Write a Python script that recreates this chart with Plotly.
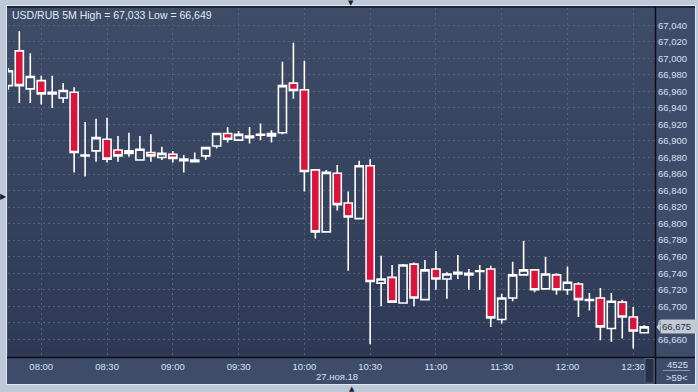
import plotly.graph_objects as go

# ---------------- data ----------------
times = [
    "2018-11-27 07:45", "2018-11-27 07:50", "2018-11-27 07:55", "2018-11-27 08:00",
    "2018-11-27 08:05", "2018-11-27 08:10", "2018-11-27 08:15", "2018-11-27 08:20",
    "2018-11-27 08:25", "2018-11-27 08:30", "2018-11-27 08:35", "2018-11-27 08:40",
    "2018-11-27 08:45", "2018-11-27 08:50", "2018-11-27 08:55", "2018-11-27 09:00",
    "2018-11-27 09:05", "2018-11-27 09:10", "2018-11-27 09:15", "2018-11-27 09:20",
    "2018-11-27 09:25", "2018-11-27 09:30", "2018-11-27 09:35", "2018-11-27 09:40",
    "2018-11-27 09:45", "2018-11-27 09:50", "2018-11-27 09:55", "2018-11-27 10:00",
    "2018-11-27 10:05", "2018-11-27 10:10", "2018-11-27 10:15", "2018-11-27 10:20",
    "2018-11-27 10:25", "2018-11-27 10:30", "2018-11-27 10:35", "2018-11-27 10:40",
    "2018-11-27 10:45", "2018-11-27 10:50", "2018-11-27 10:55", "2018-11-27 11:00",
    "2018-11-27 11:05", "2018-11-27 11:10", "2018-11-27 11:15", "2018-11-27 11:20",
    "2018-11-27 11:25", "2018-11-27 11:30", "2018-11-27 11:35", "2018-11-27 11:40",
    "2018-11-27 11:45", "2018-11-27 11:50", "2018-11-27 11:55", "2018-11-27 12:00",
    "2018-11-27 12:05", "2018-11-27 12:10", "2018-11-27 12:15", "2018-11-27 12:20",
    "2018-11-27 12:25", "2018-11-27 12:30", "2018-11-27 12:35",
]
opens = [
    66.967, 67.009, 66.963, 66.973, 66.959, 66.952, 66.959, 66.882,
    66.888, 66.902, 66.889, 66.885, 66.877, 66.886, 66.880, 66.884,
    66.878, 66.875, 66.882, 66.894, 66.909, 66.901, 66.904, 66.907,
    66.906, 66.910, 66.970, 66.962, 66.865, 66.790, 66.861, 66.825,
    66.806, 66.870, 66.728, 66.735, 66.704, 66.751, 66.708, 66.745,
    66.733, 66.741, 66.738, 66.742, 66.745, 66.684, 66.710, 66.738,
    66.744, 66.721, 66.738, 66.720, 66.727, 66.707, 66.710, 66.673,
    66.705, 66.687, 66.668,
]
highs = [
    66.988, 67.033, 67.006, 66.979, 66.979, 66.970, 66.965, 66.923,
    66.927, 66.928, 66.906, 66.910, 66.906, 66.908, 66.893, 66.888,
    66.883, 66.886, 66.893, 66.910, 66.917, 66.912, 66.917, 66.921,
    66.913, 66.996, 67.019, 66.997, 66.866, 66.865, 66.871, 66.839,
    66.876, 66.878, 66.761, 66.750, 66.751, 66.753, 66.756, 66.767,
    66.741, 66.762, 66.745, 66.750, 66.749, 66.715, 66.754, 66.779,
    66.745, 66.760, 66.740, 66.748, 66.729, 66.716, 66.722, 66.716,
    66.708, 66.699, 66.677,
]
lows = [
    66.962, 66.946, 66.946, 66.944, 66.940, 66.946, 66.862, 66.857,
    66.875, 66.874, 66.875, 66.881, 66.876, 66.875, 66.877, 66.874,
    66.862, 66.874, 66.877, 66.891, 66.898, 66.900, 66.897, 66.901,
    66.898, 66.908, 66.951, 66.839, 66.782, 66.789, 66.816, 66.743,
    66.806, 66.654, 66.700, 66.704, 66.703, 66.700, 66.707, 66.720,
    66.709, 66.733, 66.720, 66.720, 66.675, 66.679, 66.706, 66.737,
    66.717, 66.720, 66.714, 66.714, 66.687, 66.695, 66.659, 66.657,
    66.661, 66.649, 66.668,
]
closes = [
    66.985, 66.967, 66.978, 66.957, 66.957, 66.961, 66.886, 66.883,
    66.904, 66.878, 66.882, 66.888, 66.890, 66.882, 66.885, 66.879,
    66.876, 66.877, 66.892, 66.909, 66.902, 66.908, 66.906, 66.908,
    66.909, 66.967, 66.961, 66.863, 66.790, 66.862, 66.823, 66.808,
    66.870, 66.730, 66.733, 66.705, 66.750, 66.710, 66.744, 66.733,
    66.739, 66.739, 66.740, 66.743, 66.686, 66.710, 66.738, 66.744,
    66.720, 66.739, 66.720, 66.729, 66.708, 66.708, 66.675, 66.706,
    66.687, 66.670, 66.675,
]
y_ticks = [66.66, 66.68, 66.70, 66.72, 66.74, 66.76, 66.78, 66.80, 66.82, 66.84,
           66.86, 66.88, 66.90, 66.92, 66.94, 66.96, 66.98, 67.00, 67.02, 67.04]
x_ticks = ["2018-11-27 08:00", "2018-11-27 08:30", "2018-11-27 09:00", "2018-11-27 09:30",
           "2018-11-27 10:00", "2018-11-27 10:30", "2018-11-27 11:00", "2018-11-27 11:30",
           "2018-11-27 12:00", "2018-11-27 12:30"]
x_tick_labels = ["08:00", "08:30", "09:00", "09:30", "10:00", "10:30", "11:00", "11:30",
                 "12:00", "12:30"]
symbol = "USD/RUB 5M"
date_label = "27.ноя.18"
date_label_pos = "2018-11-27 10:15"
bars_label = "4525"
scale_label = ">59<"
x_range = ["2018-11-27 07:44:50", "2018-11-27 12:39:55"]
y_range = [66.6386, 67.0609]

# ---------------- layout helpers ----------------
W, H = 698, 392
ML, MR, MT, MB = 8, 43, 8, 35
PW, PH = W - ML - MR, H - MT - MB


def px_x(px):
    return (px - ML) / PW


def px_y(py):
    return (H - MB - py) / PH


def fmt(v):
    return f"{v:.3f}".replace(".", ",")


FONT = "Liberation Sans"
LABEL_COLOR = "#D3E1F6"
PANEL = "#3E4C69"

fig = go.Figure()
fig.add_trace(go.Candlestick(
    x=times, open=opens, high=highs, low=lows, close=closes,
    increasing=dict(line=dict(color="#FFFFFF", width=1.6), fillcolor="rgba(0,0,0,0)"),
    decreasing=dict(line=dict(color="#FFFFFF", width=1.6), fillcolor="#DC143C"),
    whiskerwidth=0,
    showlegend=False,
    hoverinfo="skip",
))

shapes = []
# dark panel behind plot + axes
shapes.append(dict(type="rect", xref="paper", yref="paper",
                   x0=px_x(7), x1=px_x(695), y0=px_y(384), y1=px_y(6),
                   fillcolor=PANEL, line=dict(width=0), layer="below"))
# vertical gradient of the plot area
top_rgb = (62, 76, 103)
bot_rgb = (46, 58, 85)
N = 40
for k in range(N):
    t = (k + 0.5) / N
    c = tuple(round(top_rgb[j] + (bot_rgb[j] - top_rgb[j]) * t) for j in range(3))
    shapes.append(dict(type="rect", xref="paper", yref="paper",
                       x0=0, x1=1, y0=1 - (k + 1) / N, y1=1 - k / N + 0.002,
                       fillcolor="rgb(%d,%d,%d)" % c, line=dict(width=0), layer="below"))
# top dark edge
shapes.append(dict(type="line", xref="paper", yref="paper",
                   x0=px_x(7), x1=px_x(695), y0=px_y(7), y1=px_y(7),
                   line=dict(color="#1E2535", width=2)))
# bottom and right axis separators
shapes.append(dict(type="line", xref="paper", yref="paper",
                   x0=px_x(7), x1=px_x(695), y0=px_y(357.5), y1=px_y(357.5),
                   line=dict(color="#0B0E15", width=1.5)))
shapes.append(dict(type="line", xref="paper", yref="paper",
                   x0=px_x(655.5), x1=px_x(655.5), y0=px_y(384), y1=px_y(7),
                   line=dict(color="#0B0E15", width=1.5)))
# scroll box at bottom right of time axis
shapes.append(dict(type="rect", xref="paper", yref="paper",
                   x0=px_x(645), x1=px_x(654), y0=px_y(383), y1=px_y(358.5),
                   fillcolor="#27314A", line=dict(color="#56627A", width=1)))
# separator between bar count and scale
shapes.append(dict(type="line", xref="paper", yref="paper",
                   x0=px_x(663), x1=px_x(690), y0=px_y(370.5), y1=px_y(370.5),
                   line=dict(color="#8C98AE", width=1)))
# outer panel light edge
shapes.append(dict(type="rect", xref="paper", yref="paper",
                   x0=px_x(6.5), x1=px_x(695.5), y0=px_y(384.5), y1=px_y(5.5),
                   line=dict(color="#E2E8F0", width=1), fillcolor="rgba(0,0,0,0)"))
# price tag pointer
shapes.append(dict(type="path", xref="paper", yref="y",
                   xsizemode="pixel", ysizemode="pixel",
                   xanchor=1, yanchor=closes[-1],
                   path="M1.5,0 L5,4.5 L5,-4.5 Z",
                   fillcolor="#C4CAD4", line=dict(width=0)))

hi = max(highs)
lo = min(lows)
annotations = [
    dict(text=f"{symbol} High = {fmt(hi)} Low = {fmt(lo)}", xref="paper", yref="paper",
         x=px_x(10), y=px_y(15), xanchor="left", yanchor="middle", showarrow=False,
         font=dict(family=FONT, size=10.5, color="#E3EAF5")),
    dict(text=date_label, xref="x", yref="paper", x=date_label_pos, y=px_y(376.5),
         xanchor="center", yanchor="middle", showarrow=False,
         font=dict(family=FONT, size=9.5, color=LABEL_COLOR)),
    dict(text=bars_label, xref="paper", yref="paper", x=px_x(677), y=px_y(364),
         xanchor="center", yanchor="middle", showarrow=False,
         font=dict(family=FONT, size=9.5, color=LABEL_COLOR)),
    dict(text=scale_label, xref="paper", yref="paper", x=px_x(677), y=px_y(377.5),
         xanchor="center", yanchor="middle", showarrow=False,
         font=dict(family=FONT, size=9.5, color=LABEL_COLOR)),
    dict(text=fmt(closes[-1]), xref="paper", yref="y", x=1, y=closes[-1],
         xanchor="left", yanchor="middle", xshift=5, showarrow=False,
         bgcolor="#C4CAD4", borderpad=1, width=34, align="left",
         font=dict(family=FONT, size=9.5, color="#24314D")),
    dict(text="▼", xref="paper", yref="paper", x=px_x(351), y=px_y(3),
         xanchor="center", yanchor="middle", showarrow=False,
         font=dict(family="DejaVu Sans", size=7, color="#1A2131")),
    dict(text="▲", xref="paper", yref="paper", x=px_x(352), y=px_y(389),
         xanchor="center", yanchor="middle", showarrow=False,
         font=dict(family="DejaVu Sans", size=7, color="#1A2131")),
    dict(text="▶", xref="paper", yref="paper", x=px_x(3.5), y=px_y(196),
         xanchor="center", yanchor="middle", showarrow=False,
         font=dict(family="DejaVu Sans", size=8, color="#1A2131")),
]

fig.update_layout(
    width=W, height=H,
    margin=dict(l=ML, r=MR, t=MT, b=MB, pad=0),
    paper_bgcolor="#BDC8D8",
    plot_bgcolor="rgba(0,0,0,0)",
    boxgap=0.26,
    boxgroupgap=0,
    shapes=shapes,
    annotations=annotations,
    showlegend=False,
    xaxis=dict(
        type="date", range=x_range, rangeslider=dict(visible=False),
        tickvals=x_ticks, ticktext=x_tick_labels, ticks="",
        showgrid=True, gridcolor="#55627E", gridwidth=1, griddash="2px,3px",
        showline=False, zeroline=False,
        tickfont=dict(family=FONT, size=9.5, color=LABEL_COLOR),
        ticklabelstandoff=2,
    ),
    yaxis=dict(
        side="right", range=y_range,
        tickvals=y_ticks, ticktext=[fmt(v) for v in y_ticks], ticks="",
        showgrid=True, gridcolor="#55627E", gridwidth=1, griddash="2px,3px",
        showline=False, zeroline=False,
        tickfont=dict(family=FONT, size=9.5, color=LABEL_COLOR),
        ticklabelstandoff=2,
    ),
)

fig.write_html("out.html")
